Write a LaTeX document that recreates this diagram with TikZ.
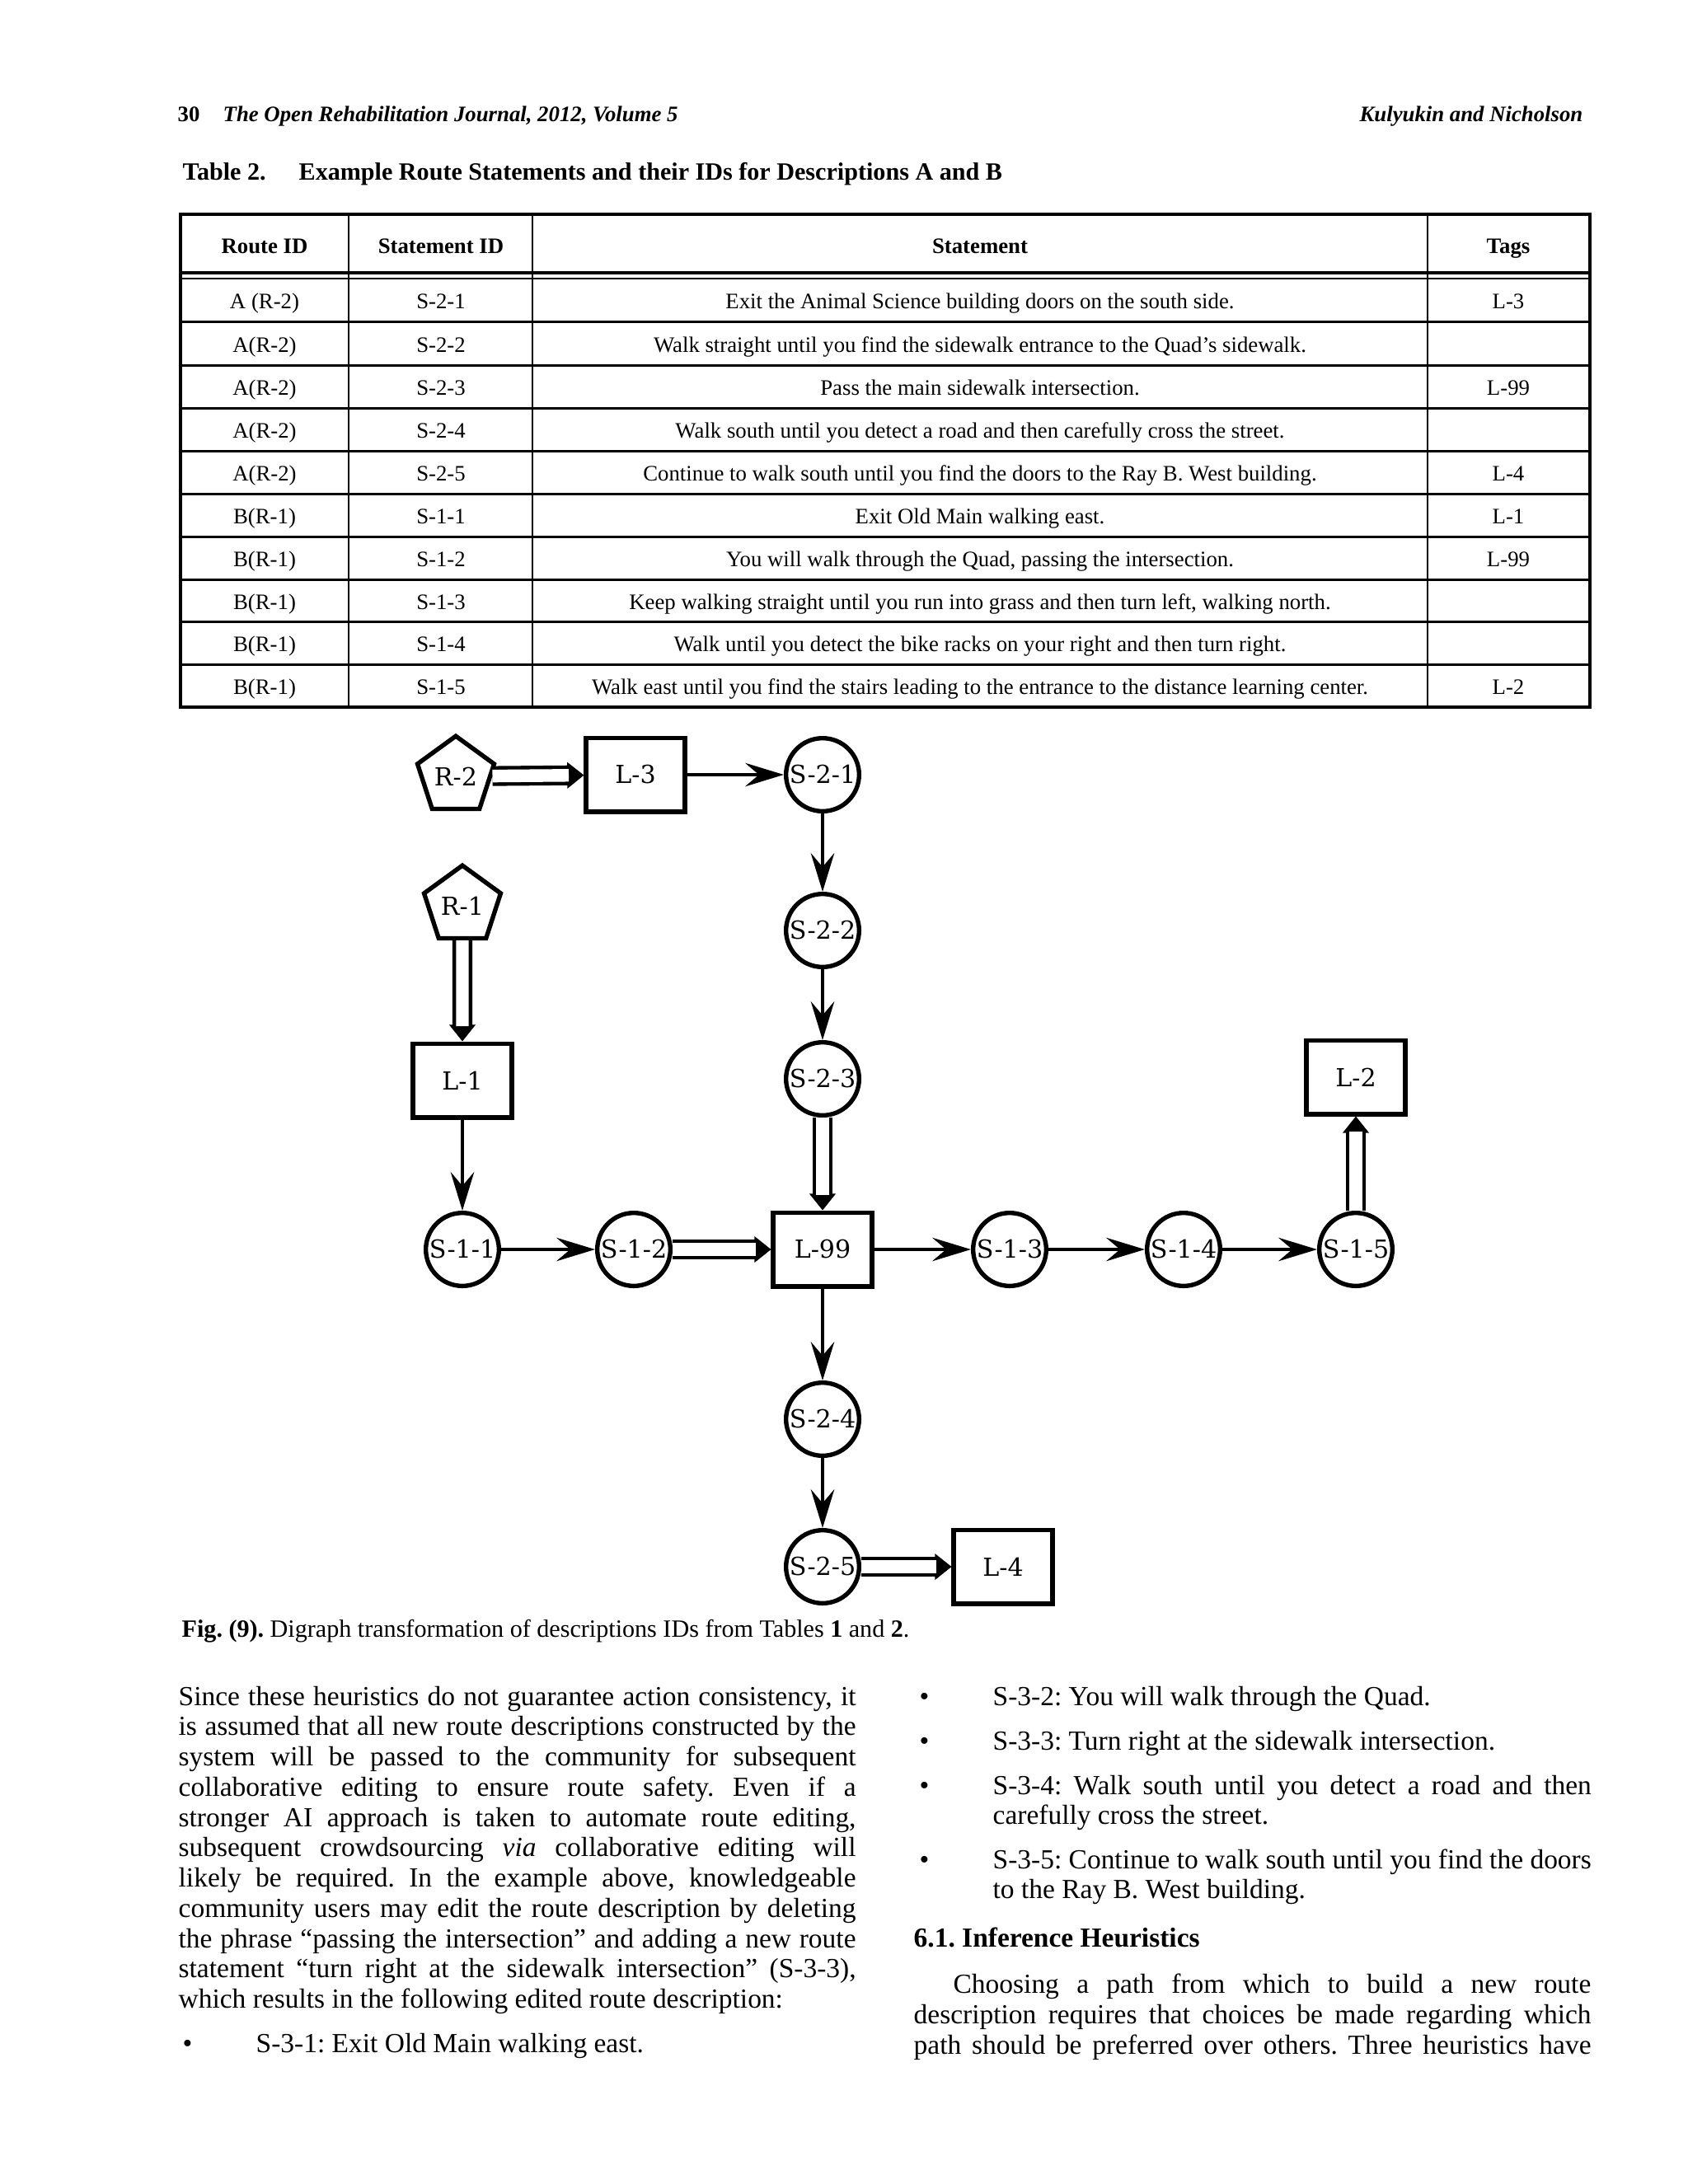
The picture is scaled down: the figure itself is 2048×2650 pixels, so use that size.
\documentclass[tikz,border=0pt]{standalone}
\usepackage{fontspec}
\setmainfont{Liberation Serif}
\newfontfamily\dejaser{DejaVu Serif}
\usetikzlibrary{shapes.geometric,arrows.meta}
\newcommand\jl[2]{\makebox[#1][s]{#2}}
\frenchspacing
\tikzset{
  snode/.style={circle, draw, line width=1.6pt, minimum size=26.5pt, inner sep=0pt, font=\dejaser\fontsize{9}{10}\selectfont},
  lnode/.style={rectangle, draw, line width=1.6pt, minimum width=35.8pt, minimum height=26.8pt, inner sep=0pt, font=\dejaser\fontsize{9}{10}\selectfont},
  rnode/.style={regular polygon, regular polygon sides=5, draw, line width=1.6pt, minimum size=29.2pt, inner sep=0pt, font=\dejaser\fontsize{9}{10}\selectfont},
  arr/.style={line width=1.35pt, -{Stealth[length=14pt, width=8.5pt, inset=5pt]}},
  dblline/.style={double, double distance=4.6pt, line width=1.3pt, shorten >=5.5pt},
  dbltip/.style={line width=0.4pt, -{Triangle[length=6pt, width=9.5pt]}},
  cell/.style={anchor=mid, inner sep=0pt, font=\fontsize{8}{9.6}\selectfont},
  hcell/.style={cell, font=\fontsize{8}{9.6}\selectfont\bfseries},
  body/.style={anchor=base west, inner sep=0pt, font=\fontsize{10}{11}\selectfont},
  hline/.style={line width=0.9pt},
  vline/.style={line width=0.6pt}
}
\newcommand\dblarrow[2]{%
  \draw[dbltip] (#1) -- (#2);
  \draw[dblline] (#1) -- (#2);}
\begin{document}
\begin{tikzpicture}[x=0.29883pt, y=-0.29883pt]
\fill[white] (0,0) rectangle (2048,2650);
\useasboundingbox (0,0) rectangle (2048,2650);

% running header
\node[anchor=base west, inner sep=0pt, font=\fontsize{8}{10}\selectfont\bfseries] (pg) at (215,147) {30};
\node[anchor=base west, inner sep=0pt, font=\fontsize{8}{10}\selectfont\bfseries\itshape] (jn) at (270,147) {The Open Rehabilitation Journal, 2012, Volume 5};
\node[anchor=base east, inner sep=0pt, font=\fontsize{8}{10}\selectfont\bfseries\itshape] (au) at (1921,147) {Kulyukin and Nicholson};

% table caption
\node[anchor=base west, inner sep=0pt, font=\fontsize{9}{11}\selectfont\bfseries] (tc1) at (221,218) {Table 2.};
\node[anchor=base west, inner sep=0pt, font=\fontsize{9}{11}\selectfont\bfseries] (tc2) at (362,218) {Example Route Statements and their IDs for Descriptions A and B};

% table rules
\draw[line width=1.3pt] (219,260) rectangle (1929,858);
\foreach \xx in {423,646,1732} \draw[vline] (\xx,260) -- (\xx,858);
\draw[line width=1.2pt] (219,331) -- (1929,331);
\draw[line width=0.7pt] (219,338) -- (1929,338);
\foreach \yy in {390,443,495,547,599,651,703,754,806} \draw[hline] (219,\yy) -- (1929,\yy);

% table header
\node[hcell] (h1) at (321,300) {Route ID};
\node[hcell] (h2) at (535,300) {Statement ID};
\node[hcell] (h3) at (1189,300) {Statement};
\node[hcell] (h4) at (1830,300) {Tags};

% table rows
\node[cell] (a1) at (321,367) {A (R-2)};
\node[cell] (b1) at (535,367) {S-2-1};
\node[cell] (c1) at (1189,367) {Exit the Animal Science building doors on the south side.};
\node[cell] (d1) at (1830,367) {L-3};

\node[cell] (a2) at (321,419.5) {A(R-2)};
\node[cell] (b2) at (535,419.5) {S-2-2};
\node[cell] (c2) at (1189,419.5) {Walk straight until you find the sidewalk entrance to the Quad’s sidewalk.};

\node[cell] (a3) at (321,472) {A(R-2)};
\node[cell] (b3) at (535,472) {S-2-3};
\node[cell] (c3) at (1189,472) {Pass the main sidewalk intersection.};
\node[cell] (d3) at (1830,472) {L-99};

\node[cell] (a4) at (321,524) {A(R-2)};
\node[cell] (b4) at (535,524) {S-2-4};
\node[cell] (c4) at (1189,524) {Walk south until you detect a road and then carefully cross the street.};

\node[cell] (a5) at (321,576) {A(R-2)};
\node[cell] (b5) at (535,576) {S-2-5};
\node[cell] (c5) at (1189,576) {Continue to walk south until you find the doors to the Ray B. West building.};
\node[cell] (d5) at (1830,576) {L-4};

\node[cell] (a6) at (321,628) {B(R-1)};
\node[cell] (b6) at (535,628) {S-1-1};
\node[cell] (c6) at (1189,628) {Exit Old Main walking east.};
\node[cell] (d6) at (1830,628) {L-1};

\node[cell] (a7) at (321,680) {B(R-1)};
\node[cell] (b7) at (535,680) {S-1-2};
\node[cell] (c7) at (1189,680) {You will walk through the Quad, passing the intersection.};
\node[cell] (d7) at (1830,680) {L-99};

\node[cell] (a8) at (321,731.5) {B(R-1)};
\node[cell] (b8) at (535,731.5) {S-1-3};
\node[cell] (c8) at (1189,731.5) {Keep walking straight until you run into grass and then turn left, walking north.};

\node[cell] (a9) at (321,783) {B(R-1)};
\node[cell] (b9) at (535,783) {S-1-4};
\node[cell] (c9) at (1189,783) {Walk until you detect the bike racks on your right and then turn right.};

\node[cell] (a10) at (321,835) {B(R-1)};
\node[cell] (b10) at (535,835) {S-1-5};
\node[cell] (c10) at (1189,835) {Walk east until you find the stairs leading to the entrance to the distance learning center.};
\node[cell] (d10) at (1830,835) {L-2};

% digraph nodes
\node[rnode] (R2) at (553,942) {R-2};
\node[lnode] (L3) at (771,940) {L-3};
\node[snode] (S21) at (998,940) {S-2-1};
\node[rnode] (R1) at (561,1099) {R-1};
\node[snode] (S22) at (998,1129) {S-2-2};
\node[snode] (S23) at (998,1309) {S-2-3};
\node[lnode] (L1) at (561,1311) {L-1};
\node[lnode] (L2) at (1645,1307) {L-2};
\node[snode] (S11) at (561,1516) {S-1-1};
\node[snode] (S12) at (769,1516) {S-1-2};
\node[lnode] (L99) at (998,1516) {L-99};
\node[snode] (S13) at (1225,1516) {S-1-3};
\node[snode] (S14) at (1436,1516) {S-1-4};
\node[snode] (S15) at (1645,1516) {S-1-5};
\node[snode] (S24) at (998,1722) {S-2-4};
\node[snode] (S25) at (998,1901) {S-2-5};
\node[lnode] (L4) at (1217,1901) {L-4};

% single edges
\draw[arr] (L3) -- (S21);
\draw[arr] (S21) -- (S22);
\draw[arr] (S22) -- (S23);
\draw[arr] (L1) -- (S11);
\draw[arr] (S11) -- (S12);
\draw[arr] (L99) -- (S13);
\draw[arr] (S13) -- (S14);
\draw[arr] (S14) -- (S15);
\draw[arr] (L99) -- (S24);
\draw[arr] (S24) -- (S25);
% double edges
\dblarrow{R2}{L3}
\dblarrow{R1}{L1}
\dblarrow{S23}{L99}
\dblarrow{S12}{L99}
\dblarrow{S15}{L2}
\dblarrow{S25}{L4}

% figure caption
\node[anchor=base west, inner sep=0pt, font=\fontsize{9}{11}\selectfont] (fc) at (220,1986) {\textbf{Fig. (9).} Digraph transformation of descriptions IDs from Tables \textbf{1} and \textbf{2}.};

% left column
\node[body] (p1) at (216,2069) {\jl{245.6pt}{Since these heuristics do not guarantee action consistency, it}};
\node[body] (p2) at (216,2105.75) {\jl{245.6pt}{is assumed that all new route descriptions constructed by the}};
\node[body] (p3) at (216,2142.5) {\jl{245.6pt}{system will be passed to the community for subsequent}};
\node[body] (p4) at (216,2179.25) {\jl{245.6pt}{collaborative editing to ensure route safety. Even if a}};
\node[body] (p5) at (216,2216) {\jl{245.6pt}{stronger AI approach is taken to automate route editing,}};
\node[body] (p6) at (216,2252.75) {\jl{245.6pt}{subsequent crowdsourcing \textit{via} collaborative editing will}};
\node[body] (p7) at (216,2289.5) {\jl{245.6pt}{likely be required. In the example above, knowledgeable}};
\node[body] (p8) at (216,2326.25) {\jl{245.6pt}{community users may edit the route description by deleting}};
\node[body] (p9) at (216,2363) {\jl{245.6pt}{the phrase “passing the intersection” and adding a new route}};
\node[body] (p10) at (216,2399.75) {\jl{245.6pt}{statement “turn right at the sidewalk intersection” (S-3-3),}};
\node[body] (p11) at (216,2436.5) {which results in the following edited route description:};
\node[body] (bl1) at (221,2490) {•};
\node[body] (q1) at (310,2490) {S-3-1: Exit Old Main walking east.};

% right column
\node[body] (bl2) at (1115,2069) {•};
\node[body] (q2) at (1204,2069) {S-3-2: You will walk through the Quad.};
\node[body] (bl3) at (1115,2123) {•};
\node[body] (q3) at (1204,2123) {S-3-3: Turn right at the sidewalk intersection.};
\node[body] (bl4) at (1115,2177) {•};
\node[body] (q4) at (1204,2177) {\jl{217pt}{S-3-4: Walk south until you detect a road and then}};
\node[body] (q4b) at (1204,2213) {carefully cross the street.};
\node[body] (bl5) at (1115,2267) {•};
\node[body] (q5) at (1204,2267) {\jl{217pt}{S-3-5: Continue to walk south until you find the doors}};
\node[body] (q5b) at (1204,2303) {to the Ray B. West building.};
\node[body, font=\fontsize{10}{11}\selectfont\bfseries] (sec) at (1108,2362) {6.1. Inference Heuristics};
\node[body] (r1) at (1156,2418) {\jl{231.2pt}{Choosing a path from which to build a new route}};
\node[body] (r2) at (1108,2455) {\jl{245.6pt}{description requires that choices be made regarding which}};
\node[body] (r3) at (1108,2492) {\jl{245.6pt}{path should be preferred over others. Three heuristics have}};
\end{tikzpicture}
\end{document}
